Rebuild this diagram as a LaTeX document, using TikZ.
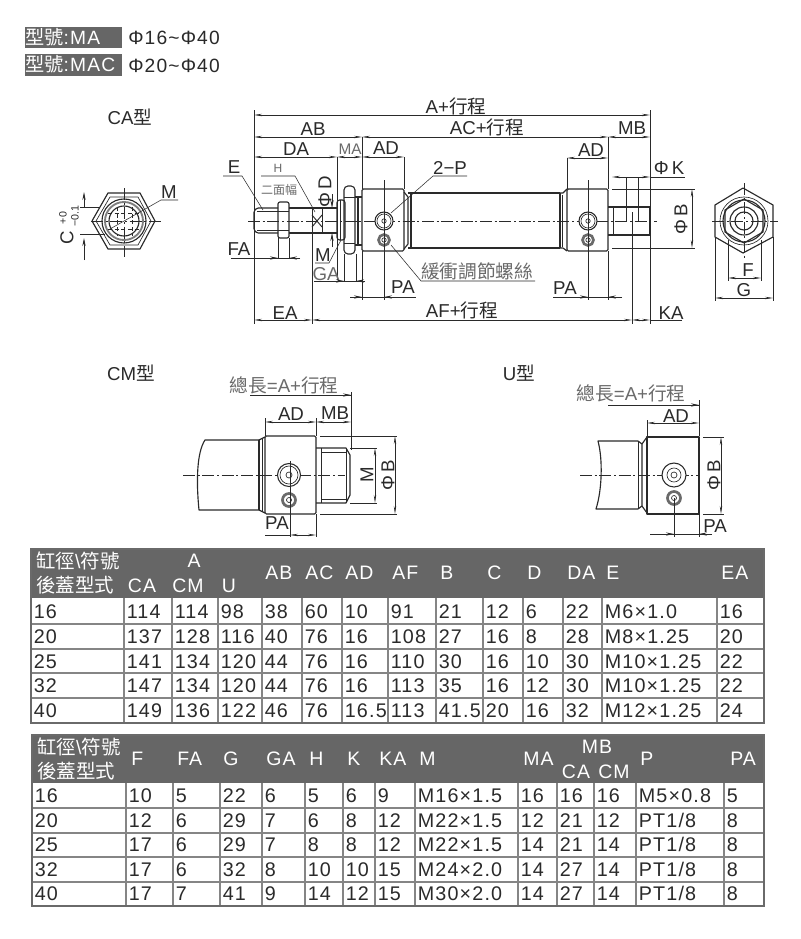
\documentclass[tikz,border=0pt]{standalone}
\usepackage{fontspec}
\usetikzlibrary{arrows.meta}
\setmainfont{Liberation Sans}
\newfontfamily\lat{Liberation Sans}[LetterSpace=6]
\newfontfamily\cjk{Noto Sans CJK TC}
\newcommand\ptv{PT1/8}
\definecolor{hdr}{HTML}{666666}
\definecolor{ink}{HTML}{2A2A2A}
\definecolor{soft}{HTML}{6A6A6A}
\definecolor{grid}{HTML}{858585}
\tikzset{
  outline/.style={line width=.85pt,draw=ink,line join=round},
  thin part/.style={line width=.5pt,draw=ink},
  extl/.style={line width=.4pt,draw=ink},
  cline/.style={line width=.4pt,draw=ink,dash pattern=on 9pt off 2pt on 1.5pt off 2pt},
  dimline/.style={line width=.45pt,draw=ink,{Stealth[length=6pt,width=1.8pt]}-{Stealth[length=6pt,width=1.8pt]}},
  tipline/.style={line width=.45pt,draw=ink,-{Stealth[length=6pt,width=2.4pt]}},
  lbl/.style={inner sep=0pt,text=ink,font=\fontsize{14}{16}\selectfont},
  softlbl/.style={inner sep=0pt,text=soft,font=\fontsize{14}{16}\selectfont},
  titlelbl/.style={inner sep=0pt,text=ink,font=\fontsize{14}{16}\selectfont},
  tcell/.style={inner sep=0pt,anchor=base west,text=ink,font=\fontsize{14.8}{17}\selectfont\lat},
  headl/.style={inner sep=0pt,anchor=base west,text=white,font=\fontsize{14.6}{17}\selectfont\lat},
  headc/.style={inner sep=0pt,anchor=base,text=white,font=\fontsize{14.6}{17}\selectfont\lat},
  taglbl/.style={inner sep=0pt,anchor=base west,text=white,font=\fontsize{14.4}{16}\selectfont\lat},
  rangetxt/.style={inner sep=0pt,anchor=base west,text=ink,font=\fontsize{14.4}{16}\selectfont\lat},
  porthole/.style={line width=.8pt,draw=ink,fill=white},
  darkring/.style={line width=2pt,draw=ink!70,fill=white},
}
\begin{document}
\begin{tikzpicture}[x=.75pt,y=-.75pt]
\useasboundingbox (0,0) rectangle (800,939);
\fill[white] (0,0) rectangle (800,939);

% ---------- top tags
\fill[hdr] (25,27) rectangle (122,48);
\fill[hdr] (25,54) rectangle (122,76);
\node[taglbl] (tagA) at (25,44) {{\cjk 型號}:MA};
\node[taglbl] (tagB) at (25,71) {{\cjk 型號}:MAC};
\node[rangetxt] (rangeA) at (128,44) {Φ16\textasciitilde Φ40};
\node[rangetxt] (rangeB) at (128,72) {Φ20\textasciitilde Φ40};

% ---------- titles
\node[titlelbl] (tCA) at (130,117) {CA{\cjk 型}};
\node[titlelbl] (tCM) at (131,373) {CM{\cjk 型}};
\node[titlelbl] (tU) at (519,373) {U{\cjk 型}};

% ---------- CA end view
\draw[outline] (92,221)--(108,193)--(140,193)--(155,221)--(140,249)--(108,249)--cycle;
\draw[thin part] (96,221)--(110,197)--(138,197)--(151,221)--(138,245)--(110,245)--cycle;
\draw[outline] (124,221) circle (22);
\draw[line width=1.4pt,draw=ink!60] (124,221) circle (19);
\draw[outline] (124,221) circle (15);
\foreach \gx in {117,132}{\draw[line width=.6pt,dash pattern=on 3pt off 2pt,draw=ink] (\gx,207)--(\gx,236);}
\foreach \gy in {213,229}{\draw[line width=.6pt,dash pattern=on 3pt off 2pt,draw=ink] (108,\gy)--(140,\gy);}
\draw[cline] (91,221)--(162,221);
\draw[cline] (124,188)--(124,257);
\draw[extl] (178,200)--(161,200)--(110,229);
\node[lbl] (lM0) at (169,192) {M};
\draw[extl] (80,207)--(100,207) (80,234)--(105,234);
\draw[tipline] (84,207)--(84,192);
\draw[tipline] (84,260)--(84,238);
\node[lbl,rotate=90] (lC) at (67,238) {C};
\node[inner sep=0pt,rotate=90,text=ink,font=\fontsize{8}{9}\selectfont] (lCp) at (63,218) {+0};
\node[inner sep=0pt,rotate=90,text=ink,font=\fontsize{8}{9}\selectfont] (lCm) at (75,216) {−0.1};

% ---------- main view body
% rod
\draw[outline,rounded corners=1pt] (278,208)--(257,208)--(254,211)--(254,230)--(257,233)--(278,233);
\draw[thin part] (257,211)--(278,211) (257,230)--(278,230);
\draw[outline] (289,208)--(337,208) (289,233)--(337,233);
\draw[outline,rounded corners=1.5pt] (278,202)rectangle(289,238);
\draw[thin part] (278,211)--(289,211) (278,230)--(289,230);
% wrench flats
\draw[thin part] (312,208)--(312,233) (322,208)--(322,233);
\draw[line width=.7pt,draw=ink] (312,215)--(322,227) (312,227)--(322,215);
% flange & nut
\draw[outline,rounded corners=2pt] (337,200) rectangle (345,240);
\draw[thin part] (340,200)--(340,240);
\draw[outline,rounded corners=3pt] (344,186) rectangle (355,254);
\draw[thin part] (344,197)--(355,197) (344,243)--(355,243);
\draw[outline] (355,197)--(362,197) (355,245)--(362,245) (358,197)--(358,245);
% blocks
\draw[outline,rounded corners=1pt] (362,189) rectangle (404,251);
\draw[outline] (404,192)--(408,197)--(408,244)--(404,249);
\draw[thin part] (410,195)--(410,247);
\draw[outline] (408,193)--(411,193) (408,248)--(411,248);
\draw[outline] (411,193)--(560,193) (411,248)--(560,248) (411,193)--(411,248) (560,193)--(560,248);
\draw[thin part] (562,195)--(562,247);
\draw[outline] (560,193)--(563,193)--(567,189) (560,248)--(563,248)--(567,251);
\draw[outline,rounded corners=1pt] (567,189) rectangle (608,251);
\draw[outline] (608,207)--(650,207)--(650,235)--(608,235);
\draw[thin part] (613,207)--(613,235);
\draw[cline] (248,221)--(657,221);
% ports
\foreach \px/\nm in {384/a,588/b}{
  \draw[porthole] (\px,221) circle (9);
  \draw[thin part] (\px,221) circle (7);
  \draw[thin part] (\px,221) circle (2.2);
  \draw[darkring] (\px,240) circle (5.5);
  \draw[thin part] (\px,240) circle (2.2);
}
% ---------- main view labels and dimensions
\foreach \ex/\ya/\yb in {254/110/324,650/110/324,362/137/189,337/157/280,404/157/189,567/158/189,608/137/189,312/208/324,632/212/324,
   384/180/300,588/180/300,362/251/300,608/251/300,278/238/258,289/238/258,344/254/281,356/254/281,626/177/221,638/177/221}{
  \draw[extl] (\ex,\ya)--(\ex,\yb);
}
\draw[dimline] (254,115)--(650,115);
\draw[dimline] (254,137)--(362,137);
\draw[dimline] (362,137)--(608,137);
\draw[dimline] (608,137)--(650,137);
\draw[dimline] (254,157)--(337,157);
\draw[dimline] (337,157)--(362,157);
\draw[dimline] (362,157)--(404,157);
\draw[dimline] (567,158)--(608,158);
\draw[dimline] (612,177)--(650,177);
\draw[extl] (650,177)--(685,177);
\draw[extl] (612,189)--(695,189) (612,248)--(695,248);
\draw[dimline] (692,189)--(692,248);
\node[lbl] (lAS) at (456,106) {A+{\cjk 行程}};
\node[lbl] (lAB) at (313,129) {AB};
\node[lbl] (lACS) at (487,127) {AC+{\cjk 行程}};
\node[lbl] (lMB) at (632,128) {MB};
\node[lbl] (lDA) at (296,149) {DA};
\node[softlbl] (lMA) at (350,149) [font=\fontsize{11.5}{13}\selectfont] {MA};
\node[lbl] (lAD) at (386,148) {AD};
\node[lbl] (lAD2) at (591,150) {AD};
\node[lbl] (lK) at (669,168) {Φ\,K};
\node[lbl,rotate=90] (lB) at (681,219) {Φ\,B};
% 2-P leader
\node[lbl] (l2P) at (450,168) {2−P};
\coordinate (p2a) at (467,176); \coordinate (p2b) at (433,176);
\draw[extl] (p2a)--(p2b)--(391,213);
% cushion screw
\node[softlbl] (lScrew) at (477,271) {\cjk 緩衝調節螺絲};
\draw[extl] (535,281)--(421,281)--(391,245);
% PA
\node[lbl] (lPA1) at (403,287) {PA};
\draw[extl] (350,297)--(416,297);
\draw[tipline] (350,297)--(362,297);
\draw[tipline] (396,297)--(384,297);
\node[lbl] (lPA2) at (565,288) {PA};
\draw[extl] (553,297)--(622,297);
\draw[tipline] (576,297)--(588,297);
\draw[tipline] (622,297)--(608,297);
% E
\node[lbl] (lE) at (234,167) {E};
\draw[extl] (223,176)--(242,176)--(263,210);
% H
\node[softlbl,font=\fontsize{9}{10}\selectfont] (lH) at (278,168) {H};
\draw[extl] (261,176)--(295,176)--(315,212);
\node[softlbl,font=\fontsize{9}{10}\selectfont\cjk] (lFlat) at (279,190) {二面幅};
% phi D
\node[lbl,rotate=90] (lD) at (325,192) {Φ\,D};
\draw[tipline] (332,194)--(332,208);
\draw[tipline] (332,247)--(332,233);
% FA
\node[lbl] (lFA) at (239,249) {FA};
\draw[extl] (231,258)--(300,258);
\draw[tipline] (266,258)--(278,258);
\draw[tipline] (300,258)--(289,258);
% M, GA
\node[lbl] (lM1) at (323,255) {M};
\draw[extl] (315,263)--(329,263)--(341,240);
\node[softlbl] (lGA) at (326,274) {GA};
\draw[extl] (314,281)--(365,281);
\draw[tipline] (333,281)--(344,281);
\draw[tipline] (365,281)--(356,281);
% bottom row
\draw[dimline] (254,320)--(312,320);
\draw[dimline] (312,320)--(632,320);
\draw[dimline] (632,320)--(650,320);
\draw[extl] (650,320)--(682,320);
\node[lbl] (lEA) at (285,313) {EA};
\node[lbl] (lAF) at (462,310) {AF+{\cjk 行程}};
\node[lbl] (lKA) at (671,313) {KA};

% ---------- right end view
\draw[outline] (743,188)--(773,205)--(773,237)--(743,253)--(715,237)--(715,205)--cycle;
\draw[outline] (744,221) circle (21);
\draw[thin part] (744,221) circle (24);
\draw[outline] (744,199)--(763,210)--(763,232)--(744,243)--(725,232)--(725,210)--cycle;
\draw[outline] (744,221) circle (14);
\draw[outline] (744,221) circle (9);
\draw[cline] (712,221)--(778,221);
\draw[cline] (744,183)--(744,258);
\draw[extl] (728,240)--(728,281) (761,240)--(761,281) (715,237)--(715,301) (773,237)--(773,301);
\draw[dimline] (728,278)--(761,278);
\draw[dimline] (715,298)--(773,298);
\node[lbl] (lF) at (748,270) {F};
\node[lbl] (lG) at (744,290) {G};

% ---------- CM view
\draw[outline] (259,440)--(205,440) .. controls (197,452) and (196,480) .. (199,510)--(259,510);
\draw[outline] (259,440)--(259,510);
\draw[outline] (259,440)--(265,437) (259,510)--(265,513);
\draw[thin part] (262,439)--(262,511);
\draw[outline,rounded corners=1pt] (265,436) rectangle (316,514);
\draw[outline] (316,448)--(346,448)--(350,455)--(350,495)--(346,503)--(316,503);
\draw[thin part] (321,448)--(321,503) (321,452)--(346,452) (321,499)--(346,499) (346,448)--(346,503);
\draw[cline] (183,475)--(345,475);
\draw[porthole] (289,475) circle (11.5);
\draw[thin part] (289,475) circle (9);
\draw[thin part] (289,475) circle (3);
\draw[darkring] (289,500) circle (6.5);
\draw[thin part] (289,500) circle (2.5);
\draw[extl] (290,461)--(290,537);
\draw[extl] (351,392)--(351,450) (265,418)--(265,436) (316,418)--(316,436) (316,514)--(316,537);
\draw[extl] (250,395)--(351,395);
\draw[tipline] (335,395)--(351,395);
\draw[dimline] (265,422)--(316,422);
\draw[dimline] (316,422)--(351,422);
\draw[extl] (320,436)--(397,436) (320,514)--(397,514) (350,448)--(377,448) (350,503)--(377,503);
\draw[dimline] (375,448)--(375,503);
\draw[dimline] (395,436)--(395,514);
\draw[dimline] (290,535)--(316,535);
\draw[extl] (265,535)--(290,535);
\node[softlbl] (lTotal1) at (284,385) {{\cjk 總長}=A+{\cjk 行程}};
\node[lbl] (lAD3) at (291,414) {AD};
\node[lbl] (lMB3) at (335,413) {MB};
\node[lbl] (lPA3) at (277,523) {PA};
\node[lbl,rotate=90] (lM3) at (367,475) {M};
\node[lbl,rotate=90] (lB3) at (388,475) {Φ\,B};

% ---------- U view
\draw[outline] (638,441)--(598,441) .. controls (603,460) and (602,490) .. (596,509)--(638,509);
\draw[outline] (638,441)--(642,444)--(642,506)--(638,509);
\draw[outline] (642,444)--(647,437) (642,506)--(647,513);
\draw[thin part] (638,441)--(638,509);
\draw[outline,line width=1.1pt] (647,437) rectangle (699,514);
\draw[cline] (580,475)--(699,475);
\draw[porthole] (674,475) circle (12);
\draw[thin part] (674,475) circle (7);
\draw[thin part] (674,475) circle (3);
\draw[darkring] (674,498) circle (6.5);
\draw[thin part] (674,498) circle (2.5);
\draw[extl] (674,498)--(674,537) (699,514)--(699,537);
\draw[extl] (699,400)--(699,436) (647,420)--(647,437);
\draw[extl] (608,405)--(699,405);
\draw[tipline] (683,405)--(699,405);
\draw[dimline] (647,423)--(699,423);
\draw[extl] (703,437)--(724,437) (703,514)--(724,514);
\draw[dimline] (721,437)--(721,514);
\draw[extl] (650,534)--(712,534);
\draw[tipline] (660,534)--(674,534);
\draw[tipline] (712,534)--(699,534);
\node[softlbl] (lTotal2) at (631,393) {{\cjk 總長}=A+{\cjk 行程}};
\node[lbl] (lAD4) at (676,416) {AD};
\node[lbl] (lPA4) at (715,526) {PA};
\node[lbl,rotate=90] (lB4) at (714,475) {Φ\,B};

% ---------- table 1
\fill[hdr] (31,549) rectangle (764,598);
\foreach \cx in {124,172,218,262,302,342,388,436,483,523,563,602,717}{
  \draw[grid,line width=.9pt] (\cx,598)--(\cx,723);
}
\foreach \ry in {624,649,673,698}{\draw[grid,line width=.9pt] (31,\ry)--(764,\ry);}
\draw[grid!80!black,line width=1pt] (31,549) rectangle (764,723);
\foreach \row/\ry in {0/618,1/643,2/668,3/692,4/717}{
  \ifcase\row
    \gdef\rowdata{16,114,114,98,38,60,10,91,21,12,6,22,M6×1.0,16}\or
    \gdef\rowdata{20,137,128,116,40,76,16,108,27,16,8,28,M8×1.25,20}\or
    \gdef\rowdata{25,141,134,120,44,76,16,110,30,16,10,30,M10×1.25,22}\or
    \gdef\rowdata{32,147,134,120,44,76,16,113,35,16,12,30,M10×1.25,22}\or
    \gdef\rowdata{40,149,136,122,46,76,16.5,113,41.5,20,16,32,M12×1.25,24}\fi
  \foreach \val [count=\ci] in \rowdata {
    \pgfmathsetmacro\cxx{{31,124,172,218,262,302,342,388,436,483,523,563,602,717}[\ci-1]}
    \node[tcell] (ta-\row-\ci) at (\cxx+2.5,\ry) {\val};
  }
}
\node[headl] (ha0) at (36,568) {{\cjk 缸徑}\textbackslash{\cjk 符號}};
\node[headl] (ha1) at (36,592) {\cjk 後蓋型式};
\node[headc] (haA) at (194,567) {A};
\node[headc] (haCA) at (142,592) {CA};
\node[headc] (haCM) at (188,592) {CM};
\node[headc] (haU) at (229,592) {U};
\foreach \tx/\lx/\nm in {AB/265/b,AC/305/c,AD/345/d,AF/392/f,B/440/g,C/487/h,D/527/i,DA/567/j,E/606/k,EA/721/l}{
  \node[headl] (ha\nm) at (\lx,579) {\tx};
}

% ---------- table 2
\fill[hdr] (32,735) rectangle (764,783);
\foreach \cx in {126,173,220,262,305,343,375,415,518,557,594,636,724}{
  \draw[grid,line width=.9pt] (\cx,783)--(\cx,906);
}
\foreach \ry in {808,833,857,882}{\draw[grid,line width=.9pt] (32,\ry)--(764,\ry);}
\draw[grid!80!black,line width=1pt] (32,735) rectangle (764,906);
\foreach \row/\ry in {0/802,1/827,2/851,3/876,4/900}{
  \ifcase\row
    \gdef\rowdata{16,10,5,22,6,5,6,9,M16×1.5,16,16,16,M5×0.8,5}\or
    \gdef\rowdata{20,12,6,29,7,6,8,12,M22×1.5,12,21,12,\ptv,8}\or
    \gdef\rowdata{25,17,6,29,7,8,8,12,M22×1.5,14,21,14,\ptv,8}\or
    \gdef\rowdata{32,17,6,32,8,10,10,15,M24×2.0,14,27,14,\ptv,8}\or
    \gdef\rowdata{40,17,7,41,9,14,12,15,M30×2.0,14,27,14,\ptv,8}\fi
  \foreach \val [count=\ci] in \rowdata {
    \pgfmathsetmacro\cxx{{32,126,173,220,262,305,343,375,415,518,557,594,636,724}[\ci-1]}
    \node[tcell] (tb-\row-\ci) at (\cxx+2.5,\ry) {\val};
  }
}
\node[headl] (hb0) at (37,754) {{\cjk 缸徑}\textbackslash{\cjk 符號}};
\node[headl] (hb1) at (37,778) {\cjk 後蓋型式};
\foreach \tx/\lx/\nm in {F/131/a,FA/177/b,G/223/c,GA/266/d,H/309/e,K/347/f,KA/379/g,M/419/h,MA/523/i,P/640/j,PA/730/k}{
  \node[headl] (hb\nm) at (\lx,765) {\tx};
}
\node[headc] (hbMB) at (597,753) {MB};
\node[headc] (hbCA) at (576,778) {CA};
\node[headc] (hbCM) at (614,778) {CM};
\end{tikzpicture}
\end{document}
